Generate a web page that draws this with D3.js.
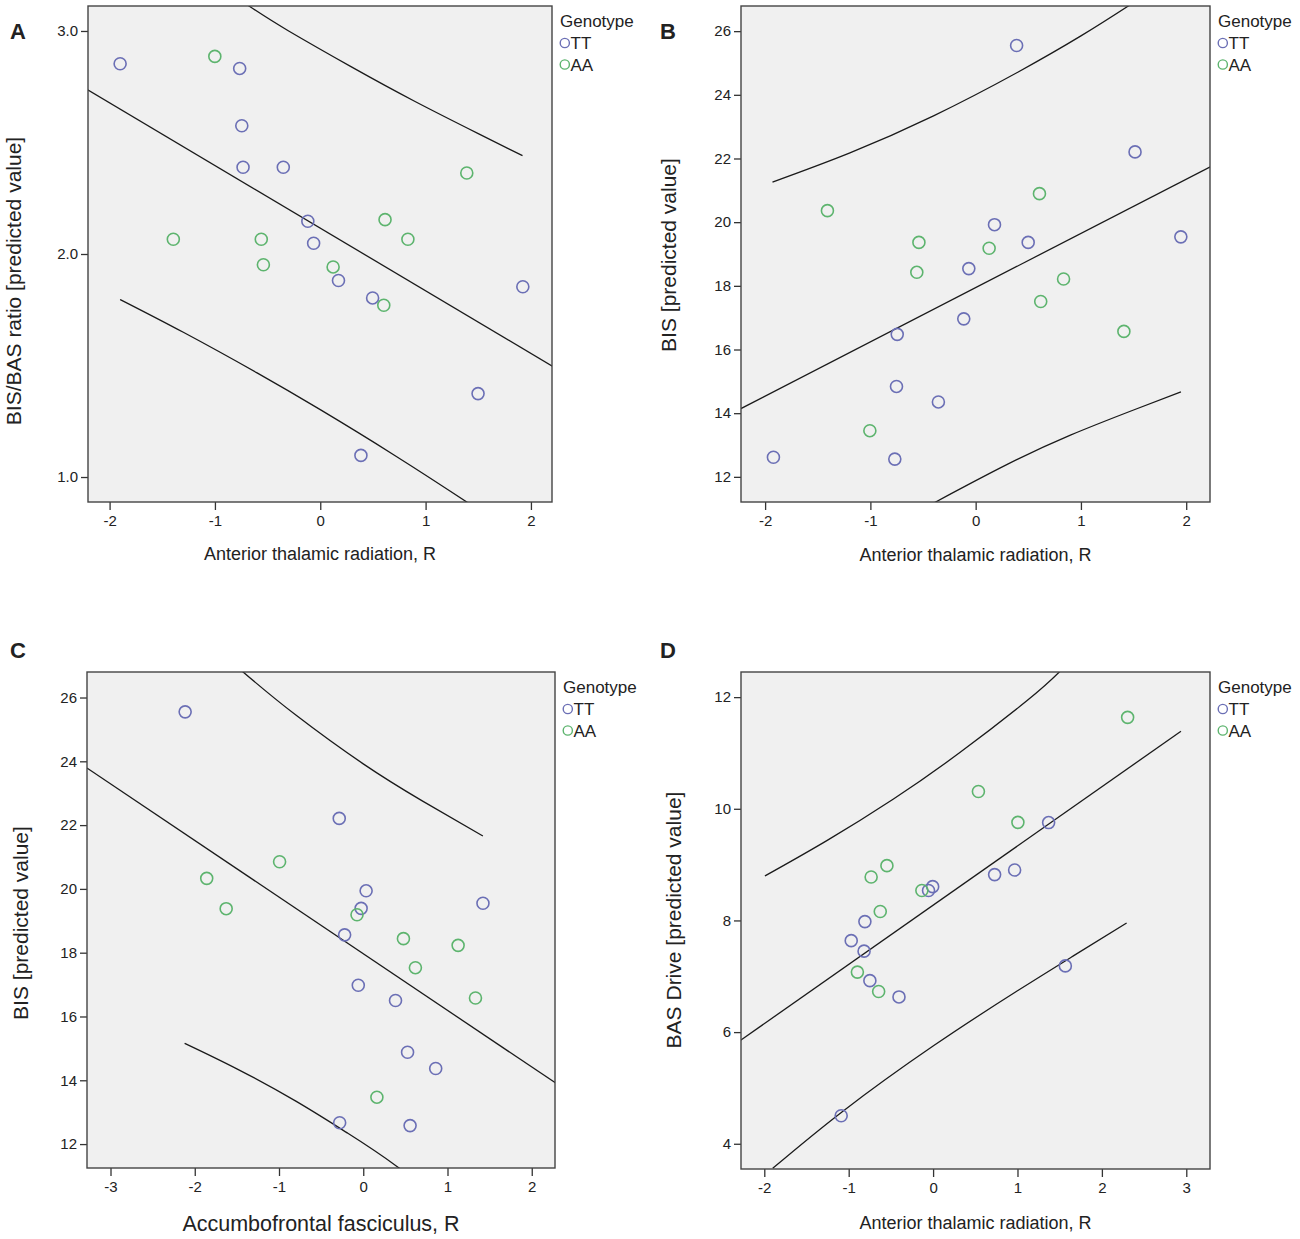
<!DOCTYPE html>
<html>
<head>
<meta charset="utf-8">
<script src="https://cdn.jsdelivr.net/npm/d3@7"></script>
<style>
  body { margin: 0; background: #fff; }
  text { font-family: Arial, "Liberation Sans", sans-serif; fill: #222; }
</style>
</head>
<body>
<svg id="chart" width="1300" height="1239"></svg>
<script>
// Values: [x, y] pairs per panel and genotype.
const genotypes = ["TT", "AA"];
const genotypeColors = ["#6b6fb5", "#5db46e"];

const A_TT = [[-1.90, 2.853], [-0.765, 2.832], [-0.745, 2.575], [-0.733, 2.389], [-0.351, 2.389], [-0.118, 2.147],
              [-0.063, 2.048], [0.173, 1.881], [0.497, 1.803], [1.923, 1.853], [1.498, 1.374], [0.386, 1.097]];
const A_AA = [[-1.001, 2.886], [-1.395, 2.066], [-0.560, 2.066], [-0.540, 1.952], [0.122, 1.942], [0.615, 2.154],
              [0.832, 2.066], [0.603, 1.770], [1.391, 2.363]];
const A_fit = [[-2.21, 2.737], [2.21, 1.495]];
const A_upper = [[-1.90, 3.506], [-1.3, 3.31], [-0.68, 3.113], [-0.3, 3.00], [0.3, 2.838], [0.9, 2.684], [1.5, 2.540], [1.92, 2.441]];
const A_lower = [[-1.90, 1.796], [-1.3, 1.649], [-0.6, 1.467], [0, 1.302], [0.7, 1.099], [1.41, 0.882], [1.92, 0.72]];

const B_TT = [[0.389, 25.548], [1.514, 22.207], [1.949, 19.538], [0.179, 19.921], [0.499, 19.364], [-0.065, 18.541],
              [-0.113, 16.963], [-0.745, 16.476], [-0.752, 14.840], [-0.354, 14.353], [-1.921, 12.615], [-0.768, 12.557]];
const B_AA = [[-1.408, 20.362], [-0.539, 19.364], [0.128, 19.179], [-0.559, 18.425], [0.606, 20.896], [0.835, 18.216],
              [0.618, 17.508], [1.408, 16.568], [-1.005, 13.450]];
const B_fit = [[-2.23, 14.144], [2.23, 21.742]];
const B_upper = [[-1.93, 21.26], [-1.2, 22.17], [-0.4, 23.34], [0.4, 24.71], [1.0, 25.85], [1.45, 26.79], [1.95, 27.87]];
const B_lower = [[-1.93, 8.06], [-1.0, 10.04], [-0.38, 11.21], [0.3, 12.39], [0.9, 13.31], [1.5, 14.10], [1.95, 14.67]];

const C_TT = [[-2.114, 25.55], [-0.285, 22.21], [1.421, 19.55], [0.034, 19.94], [-0.025, 19.39], [-0.221, 18.56],
              [-0.059, 16.98], [0.383, 16.50], [0.526, 14.88], [0.860, 14.37], [-0.280, 12.67], [0.556, 12.58]];
const C_AA = [[-1.858, 20.33], [-0.993, 20.85], [-1.627, 19.38], [-0.074, 19.19], [0.477, 18.44], [1.126, 18.23],
              [0.619, 17.53], [1.332, 16.58], [0.162, 13.47]];
const C_fit = [[-3.28, 23.79], [2.28, 13.92]];
const C_upper = [[-2.12, 28.40], [-1.43, 26.81], [-0.8, 25.45], [0, 23.92], [0.7, 22.76], [1.42, 21.66]];
const C_lower = [[-2.12, 15.16], [-1.5, 14.36], [-0.8, 13.345], [-0.2, 12.367], [0.4, 11.30], [1.42, 9.26]];

const D_TT = [[-1.089, 4.501], [1.567, 7.186], [1.369, 9.753], [0.966, 8.904], [0.729, 8.821], [-0.005, 8.605],
              [-0.054, 8.536], [-0.808, 7.979], [-0.970, 7.638], [-0.818, 7.450], [-0.749, 6.922], [-0.404, 6.630]];
const D_AA = [[2.305, 11.638], [0.537, 10.31], [1.005, 9.757], [-0.547, 8.981], [-0.734, 8.779], [-0.133, 8.536],
              [-0.626, 8.160], [-0.897, 7.075], [-0.645, 6.727]];
const D_fit = [[-2.30, 5.833], [2.937, 11.389]];
const D_upper = [[-1.992, 8.797], [-1.264, 9.425], [-0.474, 10.17], [0.317, 11.007], [1.107, 11.93], [1.502, 12.459], [1.95, 13.15]];
const D_lower = [[-1.90, 3.56], [-1.08, 4.57], [0, 5.75], [1, 6.74], [1.657, 7.36], [2.293, 7.955]];

const A_xTicks = [-2, -1, 0, 1, 2], A_yTicks = [1, 2, 3];
const B_xTicks = [-2, -1, 0, 1, 2], B_yTicks = [12, 14, 16, 18, 20, 22, 24, 26];
const C_xTicks = [-3, -2, -1, 0, 1, 2], C_yTicks = [12, 14, 16, 18, 20, 22, 24, 26];
const D_xTicks = [-2, -1, 0, 1, 2, 3], D_yTicks = [4, 6, 8, 10, 12];

const panelLabels = ["A", "B", "C", "D"];
const xTitles = ["Anterior thalamic radiation, R", "Anterior thalamic radiation, R",
                 "Accumbofrontal fasciculus, R", "Anterior thalamic radiation, R"];
const yTitles = ["BIS/BAS ratio [predicted value]", "BIS [predicted value]",
                 "BIS [predicted value]", "BAS Drive [predicted value]"];

// layout of each panel (pixels and axis ranges)
const panels = [
  { tt: A_TT, aa: A_AA, fit: A_fit, upper: A_upper, lower: A_lower, xTicks: A_xTicks, yTicks: A_yTicks,
    yFmt: d3.format(".1f"), left: 88, right: 552, top: 6, bottom: 502,
    xDomain: [-2.205, 2.200], yDomain: [0.888, 3.112],
    labelX: 10, labelY: 39, yTitleX: 21, yTitleY: 281, xTitleY: 560, xTitleSize: 18 },
  { tt: B_TT, aa: B_AA, fit: B_fit, upper: B_upper, lower: B_lower, xTicks: B_xTicks, yTicks: B_yTicks,
    yFmt: d3.format("d"), left: 741, right: 1210, top: 6, bottom: 502,
    xDomain: [-2.229, 2.226], yDomain: [11.21, 26.79],
    labelX: 660, labelY: 39, yTitleX: 676, yTitleY: 255, xTitleY: 561, xTitleSize: 18 },
  { tt: C_TT, aa: C_AA, fit: C_fit, upper: C_upper, lower: C_lower, xTicks: C_xTicks, yTicks: C_yTicks,
    yFmt: d3.format("d"), left: 87, right: 555, top: 672, bottom: 1168,
    xDomain: [-3.279, 2.276], yDomain: [11.25, 26.80],
    labelX: 10, labelY: 658, yTitleX: 28, yTitleY: 923, xTitleY: 1231, xTitleSize: 21.5 },
  { tt: D_TT, aa: D_AA, fit: D_fit, upper: D_upper, lower: D_lower, xTicks: D_xTicks, yTicks: D_yTicks,
    yFmt: d3.format("d"), left: 741, right: 1210, top: 672, bottom: 1169,
    xDomain: [-2.276, 3.281], yDomain: [3.548, 12.45],
    labelX: 660, labelY: 658, yTitleX: 681, yTitleY: 920, xTitleY: 1229, xTitleSize: 18 }
];

const svg = d3.select("#chart");
const xFmt = d => String(d);

panels.forEach(function (p, i) {
  const x = d3.scaleLinear().domain(p.xDomain).range([p.left, p.right]);
  const y = d3.scaleLinear().domain(p.yDomain).range([p.bottom, p.top]);
  const g = svg.append("g");

  // plot background
  g.append("rect")
    .attr("x", p.left).attr("y", p.top)
    .attr("width", p.right - p.left).attr("height", p.bottom - p.top)
    .attr("fill", "#f0f0f0");

  svg.append("defs").append("clipPath").attr("id", "clip" + i)
    .append("rect")
    .attr("x", p.left).attr("y", p.top)
    .attr("width", p.right - p.left).attr("height", p.bottom - p.top);

  const line = d3.line().x(d => x(d[0])).y(d => y(d[1]));
  const curve = d3.line().x(d => x(d[0])).y(d => y(d[1])).curve(d3.curveNatural);

  // fit line and prediction bands
  const lines = g.append("g").attr("clip-path", "url(#clip" + i + ")");
  lines.append("path").attr("d", line(p.fit));
  lines.append("path").attr("d", curve(p.upper));
  lines.append("path").attr("d", curve(p.lower));
  lines.selectAll("path")
    .attr("fill", "none").attr("stroke", "#1a1a1a").attr("stroke-width", 1.3);

  // points
  [p.tt, p.aa].forEach(function (pts, k) {
    g.append("g").selectAll("circle")
      .data(pts)
      .enter()
      .append("circle")
      .attr("cx", d => x(d[0]))
      .attr("cy", d => y(d[1]))
      .attr("r", 6)
      .attr("fill", "none")
      .attr("stroke", genotypeColors[k])
      .attr("stroke-width", 1.6);
  });

  // axes
  const yAxis = g.append("g")
    .attr("transform", `translate(${p.left},0)`)
    .call(d3.axisLeft(y).tickValues(p.yTicks).tickFormat(p.yFmt).tickSize(7).tickPadding(3));
  const xAxis = g.append("g")
    .attr("transform", `translate(0,${p.bottom})`)
    .call(d3.axisBottom(x).tickValues(p.xTicks).tickFormat(xFmt).tickSize(8).tickPadding(5));
  [yAxis, xAxis].forEach(function (a) {
    a.select(".domain").remove();
    a.selectAll(".tick line").attr("stroke", "#333").attr("stroke-width", 1.3);
    a.selectAll(".tick text")
      .attr("fill", "#222")
      .style("font-size", "15px")
      .style("font-family", "Arial, 'Liberation Sans', sans-serif");
  });

  // frame
  g.append("rect")
    .attr("x", p.left).attr("y", p.top)
    .attr("width", p.right - p.left).attr("height", p.bottom - p.top)
    .attr("fill", "none").attr("stroke", "#444").attr("stroke-width", 1.4);

  // titles
  g.append("text")
    .attr("x", (p.left + p.right) / 2).attr("y", p.xTitleY)
    .attr("text-anchor", "middle")
    .style("font-size", p.xTitleSize + "px")
    .text(xTitles[i]);

  g.append("text")
    .attr("transform", `translate(${p.yTitleX},${p.yTitleY}) rotate(-90)`)
    .attr("text-anchor", "middle")
    .style("font-size", "21px")
    .text(yTitles[i]);

  g.append("text")
    .attr("x", p.labelX).attr("y", p.labelY)
    .style("font-size", "22px").style("font-weight", "bold")
    .attr("fill", "#000")
    .text(panelLabels[i]);

  // legend
  const lx = p.right + 8;
  const legend = g.append("g");
  legend.append("text")
    .attr("x", lx).attr("y", p.top + 21)
    .style("font-size", "17px")
    .text("Genotype");
  genotypes.forEach(function (name, k) {
    legend.append("circle")
      .attr("cx", lx + 4.8).attr("cy", p.top + 37 + k * 21.5)
      .attr("r", 4.6)
      .attr("fill", "none")
      .attr("stroke", genotypeColors[k])
      .attr("stroke-width", 1.4);
    legend.append("text")
      .attr("x", lx + 10.5).attr("y", p.top + 43 + k * 21.5)
      .style("font-size", "17px")
      .text(name);
  });
});
</script>
</body>
</html>
